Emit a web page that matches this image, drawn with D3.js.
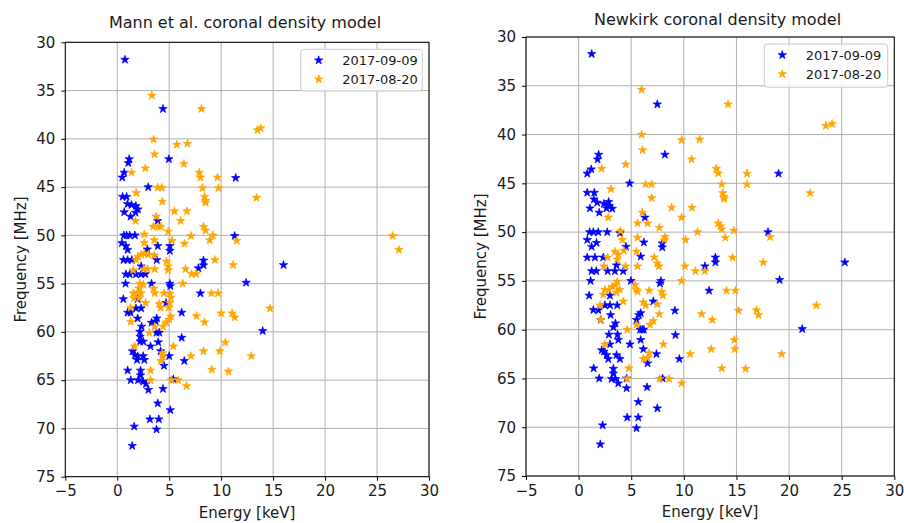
<!DOCTYPE html>
<html>
<head>
<meta charset="utf-8">
<script src="https://cdn.jsdelivr.net/npm/d3@7"></script>
<style>
  html, body { margin: 0; padding: 0; background: #fff; }
  svg { display: block; font-family: "DejaVu Sans", sans-serif; }
</style>
</head>
<body>
<svg id="chart" width="904" height="523"></svg>
<script>
// ---- data: [energy keV, frequency MHz] per event ----
const seriesNames = ["2017-09-09", "2017-08-20"];
const seriesColors = ["#0000ff", "#ffa500"];
const xTickValues = [-5, 0, 5, 10, 15, 20, 25, 30];
const yTickValues = [30, 35, 40, 45, 50, 55, 60, 65, 70, 75];

const mannSep09 = [
  [0.74,31.8],[4.4,36.9],[4.97,42.1],[1.15,42.1],[1.06,42.5],[0.67,43.5],[0.48,44.0],[11.4,44.05],[2.98,45.0],
  [0.51,46.0],[0.9,46.0],[0.99,46.75],[1.38,46.85],[1.79,46.95],[1.99,47.3],[1.76,47.65],[0.67,47.6],[1.28,48.06],[3.88,48.5],
  [0.64,50.0],[0.9,50.0],[1.2,50.0],[1.7,50.0],[11.3,50.06],[0.45,50.8],[0.83,51.1],[1.0,51.5],[2.9,51.45],[3.9,51.1],[5.06,51.1],[5.06,51.6],
  [0.6,52.55],[1.0,52.55],[1.4,52.55],[3.8,52.55],[8.3,52.6],[8.3,53.1],[7.8,53.4],[16.0,53.07],[2.3,53.2],
  [0.83,54.03],[1.2,54.03],[1.8,54.03],[2.3,54.03],[2.7,54.0],[12.4,54.9],[0.8,55.0],[3.3,55.0],[5.06,55.0],[5.1,55.25],
  [8.0,56.0],[0.58,56.6],[1.96,56.6],[4.7,57.0],[1.0,58.0],[1.28,58.0],[1.8,57.55],[2.3,57.55],[6.2,58.0],[1.96,58.6],[3.8,58.6],[3.7,58.9],
  [3.3,59.05],[2.34,59.45],[2.18,59.97],[4.04,60.08],[3.78,60.08],[14.0,59.9],[2.2,60.5],[6.2,60.6],[2.2,61.0],[2.5,61.0],[3.94,61.07],[3.2,61.5],
  [4.17,62.0],[1.47,62.0],[1.7,62.4],[1.96,62.55],[2.5,62.5],[1.9,62.9],[2.6,62.9],[5.0,62.5],[4.5,63.5],[6.45,63.0],
  [1.0,64.0],[2.24,64.0],[2.24,64.5],[1.3,65.0],[2.0,65.0],[2.5,65.15],[2.76,65.4],[3.0,66.0],[4.4,65.9],[5.4,64.9],
  [3.9,67.4],[5.1,68.1],[3.14,69.05],[4.0,69.05],[3.78,70.1],[1.63,69.8],[1.44,71.8]
];
const mannAug20 = [
  [3.33,35.5],[8.1,36.9],[13.5,39.1],[13.8,38.9],[3.5,40.05],[5.74,40.6],[6.76,40.5],[3.59,41.6],[6.4,42.6],[2.7,43.05],[1.38,43.5],
  [7.9,43.5],[8.0,44.0],[9.65,44.0],[3.9,45.05],[4.3,45.05],[8.2,45.1],[9.75,45.1],
  [13.4,46.1],[1.83,45.6],[8.4,46.0],[8.5,46.4],[8.5,46.6],[4.33,46.5],[5.5,47.5],[6.7,47.5],[1.76,48.5],[3.75,48.06],[6.1,48.5],
  [3.46,49.1],[3.94,49.1],[4.2,49.1],[8.3,49.1],[8.5,49.5],[9.2,50.0],[8.9,50.5],[4.9,49.6],[2.6,49.9],[26.5,50.06],[27.1,51.5],
  [2.6,50.8],[3.56,50.5],[5.26,50.55],[7.1,50.06],[6.47,50.86],[11.5,50.55],[3.56,52.06],[2.0,52.2],[2.3,52.0],[2.6,51.9],[3.0,52.0],
  [1.8,52.55],[4.74,52.7],[4.9,53.2],[4.9,53.6],[1.54,53.6],[2.56,53.5],[2.9,53.5],[3.6,53.5],[6.57,53.5],[9.4,52.55],[11.15,53.07],
  [7.15,54.0],[7.6,54.0],[6.3,55.0],[2.18,55.0],[2.5,55.1],[1.54,56.0],[2.0,55.9],[2.3,56.0],[2.1,55.5],[3.5,55.5],[3.6,56.0],
  [4.5,56.0],[5.06,56.0],[5.16,56.45],[9.07,56.0],[9.7,56.0],[1.6,56.5],[2.1,56.5],[5.06,57.0],
  [1.28,57.5],[2.72,57.0],[4.04,57.1],[4.17,57.5],[4.97,57.5],[5.16,58.4],[5.0,58.7],[7.63,58.35],[8.4,59.0],[10.0,58.07],
  [11.06,58.07],[11.3,58.5],[14.7,57.56],[1.3,58.95],[4.7,59.0],[4.4,59.45],[3.6,59.45],[3.08,60.08],[1.67,61.5],[5.4,61.5],
  [4.33,62.2],[4.4,62.55],[8.3,62.0],[9.87,62.0],[10.4,61.1],[7.1,62.5],[12.9,62.5],[4.2,63.0],[3.2,64.0],[9.1,63.9],[10.7,64.1],
  [3.2,65.0],[5.2,65.0],[5.87,65.0],[6.67,65.6]
];
const newkirkSep09 = [
  [1.24,31.74],[7.48,36.9],[1.9,42.06],[1.8,42.54],[1.2,43.56],[0.82,44.0],[8.2,42.06],[4.85,45.0],[19.0,44.0],
  [0.82,45.96],[1.49,45.96],[1.46,46.64],[1.77,46.98],[2.4,47.1],[2.85,46.9],[2.9,47.3],[2.66,47.56],[3.2,47.6],[1.08,47.56],[1.96,48.0],[6.3,48.5],
  [1.05,50.0],[1.4,50.0],[1.87,50.0],[2.72,50.0],[3.93,50.1],[18.0,50.0],[0.82,50.8],[1.24,51.5],[1.7,51.1],[4.5,51.5],[6.2,51.05],[7.95,51.15],[7.95,51.56],
  [0.82,52.6],[1.55,52.6],[2.34,52.6],[5.9,52.5],[13.0,52.6],[13.0,53.1],[25.3,53.1],[12.0,53.5],[3.6,53.4],
  [1.24,54.0],[1.68,54.0],[2.76,54.0],[3.45,54.0],[4.24,54.0],[19.1,54.9],[1.14,55.0],[4.97,55.0],[7.82,55.0],[7.73,55.25],
  [12.4,56.0],[1.0,56.5],[2.98,56.5],[7.1,57.1],
  [1.4,57.98],[1.87,58.0],[2.5,57.5],[2.98,57.5],[3.67,57.5],[3.04,58.5],[2.1,59.0],[9.15,58.05],[5.5,59.0],[5.73,58.5],[5.9,58.3],
  [5.85,60.0],[6.05,60.0],[6.2,60.0],[3.5,59.35],[3.3,59.75],[2.88,60.5],[3.7,60.5],[3.77,61.05],[9.2,60.55],[4.88,61.5],[5.9,61.05],[21.25,59.93],[2.98,61.5],
  [2.2,62.1],[2.4,62.25],[2.66,62.6],[2.82,63.0],[3.6,62.6],[3.93,63.0],[6.15,62.0],[6.56,63.45],[7.4,62.5],[9.57,63.0],
  [1.43,63.96],[1.96,65.0],[3.3,64.0],[3.3,64.5],[3.14,65.05],[3.5,65.05],[3.77,65.5],[4.56,65.0],[4.56,66.0],[7.98,65.0],[6.5,65.9],
  [5.67,67.4],[7.48,68.06],[4.62,69.0],[5.67,69.0],[5.5,70.1],[2.28,69.8],[2.06,71.75]
];
const newkirkAug20 = [
  [5.99,35.4],[14.2,36.9],[23.5,39.1],[24.1,38.9],[5.99,40.0],[9.79,40.56],[11.5,40.5],[6.08,41.6],[10.74,42.54],[4.47,43.05],[2.19,43.5],
  [13.08,43.5],[13.27,43.97],[16.0,44.0],[6.37,45.1],[6.94,45.1],[13.6,45.1],[16.0,45.1],[3.07,45.6],[13.7,46.0],[13.8,46.4],[13.85,46.6],
  [22.0,46.0],[6.94,46.5],[8.84,47.5],[10.77,47.5],[2.82,48.5],[6.05,48.0],[9.79,48.5],[5.6,49.1],[6.56,49.1],[13.27,49.1],[13.5,49.4],
  [13.6,49.7],[7.67,49.55],[11.3,50.0],[14.76,49.85],[3.99,49.9],[8.2,50.5],[8.14,50.8],[5.6,50.57],[10.17,50.8],[13.94,50.57],[18.2,50.5],[4.15,50.8],
  [3.45,52.0],[3.77,52.3],[3.67,52.8],[4.3,51.9],[2.76,52.6],[5.5,52.0],[7.19,52.58],[7.48,53.2],[7.63,53.5],[2.4,53.5],[4.47,53.5],
  [5.6,53.5],[10.1,53.5],[11.1,54.0],[12.0,54.0],[14.63,52.6],[17.55,53.1],
  [9.79,55.0],[3.67,55.07],[3.5,55.4],[3.2,55.6],[2.88,55.9],[2.5,55.9],[2.34,56.4],[3.9,55.9],[3.6,56.2],[5.35,55.4],[5.5,55.9],[5.6,56.1],
  [6.7,56.0],[7.9,56.1],[8.0,56.5],[14.06,56.0],[14.9,56.0],[4.24,57.1],[2.03,57.5],[6.15,57.2],[6.37,57.5],[7.48,57.4],[22.6,57.5],
  [7.67,58.4],[11.7,58.4],[15.2,58.05],[16.9,58.0],[17.1,58.5],[2.1,59.0],[7.1,59.1],[6.78,59.5],[12.7,59.0],[5.5,59.5],[4.62,60.0],
  [8.05,61.5],[14.8,61.05],[2.5,61.5],[14.85,62.0],[12.6,62.0],[10.6,62.5],[19.3,62.5],[6.7,62.4],[6.56,62.9],[6.15,63.0],
  [4.78,63.96],[13.6,63.96],[15.87,64.0],[4.62,65.05],[7.7,65.05],[8.6,65.05],[9.79,65.5]
];

// ---- layout of the two panels ----
const panels = [
  { title: "Mann et al. coronal density model", series: [mannSep09, mannAug20],
    left: 65.3, right: 429, top: 42.3, bottom: 476.7,
    titleX: 245, titleY: 27.5, yLabelX: 21, xLabelY: 518,
    legend: { x: 300.7, y: 49.3, w: 121.6, h: 41.7 } },
  { title: "Newkirk coronal density model", series: [newkirkSep09, newkirkAug20],
    left: 526, right: 894.3, top: 37, bottom: 476,
    titleX: 717.5, titleY: 24.5, yLabelX: 481, xLabelY: 517,
    legend: { x: 764.3, y: 44, w: 123.4, h: 43.3 } }
];

const svg = d3.select("#chart");
const star = d3.symbol(d3.symbolStar, 22);
const textColor = "#1a1a1a";

panels.forEach(p => {
  const x = d3.scaleLinear().domain([-5, 30]).range([p.left, p.right]);
  const y = d3.scaleLinear().domain([30, 75]).range([p.top, p.bottom]);
  const g = svg.append("g");

  // grid
  g.append("g").selectAll("line").data(xTickValues).join("line")
    .attr("x1", d => x(d)).attr("x2", d => x(d))
    .attr("y1", p.top).attr("y2", p.bottom)
    .attr("stroke", "#b0b0b0").attr("stroke-width", 1);
  g.append("g").selectAll("line").data(yTickValues).join("line")
    .attr("y1", d => y(d)).attr("y2", d => y(d))
    .attr("x1", p.left).attr("x2", p.right)
    .attr("stroke", "#b0b0b0").attr("stroke-width", 1);

  // axes
  const fmt = d => (d < 0 ? "\u2212" + Math.abs(d) : String(d));
  const xAxis = g.append("g").attr("transform", `translate(0,${p.bottom})`)
    .call(d3.axisBottom(x).tickValues(xTickValues).tickFormat(fmt).tickSize(4).tickSizeOuter(0).tickPadding(5));
  const yAxis = g.append("g").attr("transform", `translate(${p.left},0)`)
    .call(d3.axisLeft(y).tickValues(yTickValues).tickFormat(fmt).tickSize(4).tickSizeOuter(0).tickPadding(6));
  [xAxis, yAxis].forEach(a => {
    a.select(".domain").remove();
    a.selectAll("line").attr("stroke", "#000");
    a.selectAll("text").attr("fill", textColor).style("font-size", "15px")
      .style("font-family", "'DejaVu Sans', sans-serif");
  });

  // frame
  g.append("rect").attr("x", p.left).attr("y", p.top)
    .attr("width", p.right - p.left).attr("height", p.bottom - p.top)
    .attr("fill", "none").attr("stroke", "#000").attr("stroke-width", 1);

  // markers (clipped to the axes)
  const clipId = "clip" + Math.round(p.left);
  g.append("clipPath").attr("id", clipId).append("rect")
    .attr("x", p.left).attr("y", p.top).attr("width", p.right - p.left).attr("height", p.bottom - p.top);
  const pts = g.append("g").attr("clip-path", `url(#${clipId})`);
  p.series.forEach((s, i) => {
    pts.append("g").selectAll("path").data(s).join("path")
      .attr("d", star)
      .attr("transform", d => `translate(${x(d[0])},${y(d[1])})`)
      .attr("fill", seriesColors[i]).attr("stroke", seriesColors[i]).attr("stroke-width", 0.7);
  });

  // title and axis labels
  g.append("text").attr("x", p.titleX).attr("y", p.titleY).attr("text-anchor", "middle")
    .attr("fill", textColor).style("font-size", "16px").text(p.title);
  g.append("text").attr("x", (p.left + p.right) / 2).attr("y", p.xLabelY).attr("text-anchor", "middle")
    .attr("fill", textColor).style("font-size", "15px").text("Energy [keV]");
  g.append("text").attr("transform", `translate(${p.yLabelX},${(p.top + p.bottom) / 2}) rotate(-90)`)
    .attr("text-anchor", "middle").attr("dominant-baseline", "central")
    .attr("fill", textColor).style("font-size", "15px").text("Frequency [MHz]");

  // legend
  const L = p.legend;
  const lg = g.append("g");
  lg.append("rect").attr("x", L.x).attr("y", L.y).attr("width", L.w).attr("height", L.h)
    .attr("rx", 3).attr("fill", "#fff").attr("fill-opacity", 0.8).attr("stroke", "#cccccc");
  seriesNames.forEach((name, i) => {
    const cy = L.y + 11 + i * 19;
    lg.append("path").attr("d", star).attr("transform", `translate(${L.x + 18},${cy})`)
      .attr("fill", seriesColors[i]).attr("stroke", seriesColors[i]).attr("stroke-width", 0.7);
    lg.append("text").attr("x", L.x + 41.5).attr("y", cy).attr("dominant-baseline", "central")
      .attr("fill", textColor).style("font-size", "13px").text(name);
  });
});
</script>
</body>
</html>
